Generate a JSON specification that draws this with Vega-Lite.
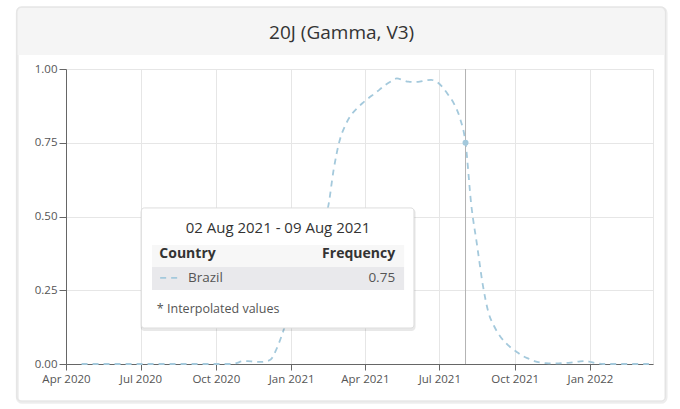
{
  "$schema": "https://vega.github.io/schema/vega-lite/v6.json",
  "background": "white",
  "padding": {"left": 15, "top": 6, "right": 0, "bottom": 0},
  "width": 587,
  "height": 295,
  "datasets": {
    "gamma": [
      {"date": "2020-04-20", "freq": 0}, {"date": "2020-04-27", "freq": 0},
      {"date": "2020-05-04", "freq": 0}, {"date": "2020-05-11", "freq": 0},
      {"date": "2020-05-18", "freq": 0}, {"date": "2020-05-25", "freq": 0},
      {"date": "2020-06-01", "freq": 0}, {"date": "2020-06-08", "freq": 0},
      {"date": "2020-06-15", "freq": 0}, {"date": "2020-06-22", "freq": 0},
      {"date": "2020-06-29", "freq": 0}, {"date": "2020-07-06", "freq": 0},
      {"date": "2020-07-13", "freq": 0}, {"date": "2020-07-20", "freq": 0},
      {"date": "2020-07-27", "freq": 0}, {"date": "2020-08-03", "freq": 0},
      {"date": "2020-08-10", "freq": 0}, {"date": "2020-08-17", "freq": 0},
      {"date": "2020-08-24", "freq": 0}, {"date": "2020-08-31", "freq": 0},
      {"date": "2020-09-07", "freq": 0}, {"date": "2020-09-14", "freq": 0},
      {"date": "2020-09-21", "freq": 0}, {"date": "2020-09-28", "freq": 0},
      {"date": "2020-10-05", "freq": 0}, {"date": "2020-10-12", "freq": 0},
      {"date": "2020-10-19", "freq": 0}, {"date": "2020-10-26", "freq": 0.003},
      {"date": "2020-11-02", "freq": 0.009}, {"date": "2020-11-09", "freq": 0.01},
      {"date": "2020-11-16", "freq": 0.008}, {"date": "2020-11-23", "freq": 0.007},
      {"date": "2020-11-30", "freq": 0.008}, {"date": "2020-12-07", "freq": 0.015},
      {"date": "2020-12-14", "freq": 0.05}, {"date": "2020-12-21", "freq": 0.1},
      {"date": "2020-12-28", "freq": 0.16}, {"date": "2021-01-04", "freq": 0.21},
      {"date": "2021-01-11", "freq": 0.26}, {"date": "2021-01-18", "freq": 0.31},
      {"date": "2021-01-25", "freq": 0.36}, {"date": "2021-02-01", "freq": 0.42},
      {"date": "2021-02-08", "freq": 0.48}, {"date": "2021-02-15", "freq": 0.53},
      {"date": "2021-02-22", "freq": 0.66}, {"date": "2021-03-01", "freq": 0.755},
      {"date": "2021-03-08", "freq": 0.808}, {"date": "2021-03-15", "freq": 0.843},
      {"date": "2021-03-22", "freq": 0.865}, {"date": "2021-03-29", "freq": 0.884},
      {"date": "2021-04-05", "freq": 0.9}, {"date": "2021-04-12", "freq": 0.915},
      {"date": "2021-04-19", "freq": 0.93}, {"date": "2021-04-26", "freq": 0.946},
      {"date": "2021-05-03", "freq": 0.958}, {"date": "2021-05-10", "freq": 0.968},
      {"date": "2021-05-17", "freq": 0.963}, {"date": "2021-05-24", "freq": 0.957},
      {"date": "2021-05-31", "freq": 0.956}, {"date": "2021-06-07", "freq": 0.957},
      {"date": "2021-06-14", "freq": 0.961}, {"date": "2021-06-21", "freq": 0.963},
      {"date": "2021-06-28", "freq": 0.956}, {"date": "2021-07-05", "freq": 0.938},
      {"date": "2021-07-12", "freq": 0.912}, {"date": "2021-07-19", "freq": 0.882},
      {"date": "2021-07-26", "freq": 0.835}, {"date": "2021-08-02", "freq": 0.75},
      {"date": "2021-08-09", "freq": 0.54}, {"date": "2021-08-16", "freq": 0.405},
      {"date": "2021-08-23", "freq": 0.27}, {"date": "2021-08-30", "freq": 0.175},
      {"date": "2021-09-06", "freq": 0.128}, {"date": "2021-09-13", "freq": 0.095},
      {"date": "2021-09-20", "freq": 0.072}, {"date": "2021-09-27", "freq": 0.054},
      {"date": "2021-10-04", "freq": 0.04}, {"date": "2021-10-11", "freq": 0.027},
      {"date": "2021-10-18", "freq": 0.018}, {"date": "2021-10-25", "freq": 0.01},
      {"date": "2021-11-01", "freq": 0.005}, {"date": "2021-11-08", "freq": 0.003},
      {"date": "2021-11-15", "freq": 0.002}, {"date": "2021-11-22", "freq": 0.002},
      {"date": "2021-11-29", "freq": 0.003}, {"date": "2021-12-06", "freq": 0.004},
      {"date": "2021-12-13", "freq": 0.006}, {"date": "2021-12-20", "freq": 0.009},
      {"date": "2021-12-27", "freq": 0.01}, {"date": "2022-01-03", "freq": 0.006},
      {"date": "2022-01-10", "freq": 0.002}, {"date": "2022-01-17", "freq": 0},
      {"date": "2022-01-24", "freq": 0}, {"date": "2022-01-31", "freq": 0},
      {"date": "2022-02-07", "freq": 0}, {"date": "2022-02-14", "freq": 0},
      {"date": "2022-02-21", "freq": 0}, {"date": "2022-02-28", "freq": 0},
      {"date": "2022-03-07", "freq": 0}, {"date": "2022-03-14", "freq": 0}
    ]
  },
  "layer": [
    {
      "data": {"name": "gamma"},
      "mark": {
        "type": "line",
        "interpolate": "monotone",
        "strokeDash": [6, 5],
        "strokeWidth": 1.8,
        "color": "#a4c9dc"
      },
      "encoding": {
        "x": {
          "field": "date",
          "type": "temporal",
          "title": null,
          "scale": {
            "type": "utc",
            "nice": false,
            "domain": [
              {"year": 2020, "month": 4, "date": 1, "utc": true},
              {"year": 2022, "month": 3, "date": 19, "utc": true}
            ]
          },
          "axis": {
            "format": "%b %Y",
            "tickCount": {"interval": "month", "step": 3},
            "labelFlush": false,
            "labelOverlap": false,
            "tickSize": 6,
            "labelPadding": 3
          }
        },
        "y": {
          "field": "freq",
          "type": "quantitative",
          "title": null,
          "scale": {"domain": [0, 1]},
          "axis": {
            "values": [0, 0.25, 0.5, 0.75, 1],
            "format": ".2f",
            "tickSize": 7,
            "labelPadding": 2
          }
        }
      }
    },
    {
      "data": {"values": [{}]},
      "mark": {"type": "rect", "fill": null, "stroke": "#000", "strokeOpacity": 0.07, "strokeWidth": 3, "cornerRadius": 5},
      "encoding": {
        "x": {"datum": {"year": 2020, "month": 2, "date": 1, "hours": 12, "utc": true}, "type": "temporal"},
        "x2": {"datum": {"year": 2022, "month": 4, "date": 4, "utc": true}},
        "y": {"datum": 1.207, "type": "quantitative"},
        "y2": {"datum": -0.13}
      }
    },
    {
      "data": {"values": [{}]},
      "mark": {"type": "rect", "fill": null, "stroke": "#e2e2e2", "strokeWidth": 1, "cornerRadius": 4},
      "encoding": {
        "x": {"datum": {"year": 2020, "month": 2, "date": 1, "utc": true}, "type": "temporal"},
        "x2": {"datum": {"year": 2022, "month": 4, "date": 3, "utc": true}},
        "y": {"datum": 1.2102, "type": "quantitative"},
        "y2": {"datum": -0.1254}
      }
    },
    {
      "data": {"values": [{}]},
      "mark": {"type": "rect", "fill": "#f5f5f5", "cornerRadiusTopLeft": 4, "cornerRadiusTopRight": 4},
      "encoding": {
        "x": {"datum": {"year": 2020, "month": 2, "date": 2, "utc": true}, "type": "temporal"},
        "x2": {"datum": {"year": 2022, "month": 4, "date": 2, "utc": true}},
        "y": {"datum": 1.2068, "type": "quantitative"},
        "y2": {"datum": 1.0475}
      }
    },
    {
      "data": {"values": [{"t": "20J (Gamma, V3)"}]},
      "mark": {"type": "text", "fontSize": 19, "color": "#333", "align": "center", "baseline": "middle"},
      "encoding": {
        "x": {"datum": {"year": 2021, "month": 3, "date": 3, "hours": 17, "utc": true}, "type": "temporal"},
        "y": {"datum": 1.122, "type": "quantitative"},
        "text": {"field": "t"}
      }
    },
    {
      "data": {"name": "gamma"},
      "transform": [{"filter": {"field": "date", "equal": {"year": 2021, "month": 8, "date": 2, "utc": true}}}],
      "mark": {"type": "rule", "color": "#b3b3b3", "strokeWidth": 1},
      "encoding": {"x": {"field": "date", "type": "temporal"}}
    },
    {
      "data": {"name": "gamma"},
      "transform": [{"filter": {"field": "date", "equal": {"year": 2021, "month": 8, "date": 2, "utc": true}}}],
      "mark": {"type": "point", "filled": true, "size": 36, "opacity": 1, "color": "#a4c9dc"},
      "encoding": {
        "x": {"field": "date", "type": "temporal"},
        "y": {"field": "freq", "type": "quantitative"}
      }
    },
    {
      "data": {"values": [{}]},
      "mark": {"type": "rect", "color": "#000", "opacity": 0.09, "cornerRadius": 4},
      "encoding": {
        "x": {"datum": {"year": 2020, "month": 7, "date": 1, "utc": true}, "type": "temporal"},
        "x2": {"datum": {"year": 2021, "month": 6, "date": 2, "utc": true}},
        "y": {"datum": 0.527, "type": "quantitative"},
        "y2": {"datum": 0.112}
      }
    },
    {
      "data": {"values": [{}]},
      "mark": {"type": "rect", "fill": "white", "stroke": "#dddddd", "strokeWidth": 1, "cornerRadius": 3},
      "encoding": {
        "x": {"datum": {"year": 2020, "month": 7, "date": 2, "utc": true}, "type": "temporal"},
        "x2": {"datum": {"year": 2021, "month": 5, "date": 31, "utc": true}},
        "y": {"datum": 0.529, "type": "quantitative"},
        "y2": {"datum": 0.122}
      }
    },
    {
      "data": {"values": [{}]},
      "mark": {"type": "rect", "fill": "#f7f7f7"},
      "encoding": {
        "x": {"datum": {"year": 2020, "month": 7, "date": 15, "utc": true}, "type": "temporal"},
        "x2": {"datum": {"year": 2021, "month": 5, "date": 19, "utc": true}},
        "y": {"datum": 0.403, "type": "quantitative"},
        "y2": {"datum": 0.329}
      }
    },
    {
      "data": {"values": [{}]},
      "mark": {"type": "rect", "fill": "#e9e9ec"},
      "encoding": {
        "x": {"datum": {"year": 2020, "month": 7, "date": 15, "utc": true}, "type": "temporal"},
        "x2": {"datum": {"year": 2021, "month": 5, "date": 19, "utc": true}},
        "y": {"datum": 0.329, "type": "quantitative"},
        "y2": {"datum": 0.251}
      }
    },
    {
      "data": {"values": [{"t": "02 Aug 2021 - 09 Aug 2021"}]},
      "mark": {"type": "text", "fontSize": 15, "color": "#333", "align": "center", "baseline": "middle"},
      "encoding": {
        "x": {"datum": {"year": 2020, "month": 12, "date": 16, "utc": true}, "type": "temporal"},
        "y": {"datum": 0.461, "type": "quantitative"},
        "text": {"field": "t"}
      }
    },
    {
      "data": {"values": [{"t": "Country"}]},
      "mark": {"type": "text", "fontSize": 14, "fontWeight": "bold", "color": "#333", "align": "left", "baseline": "middle"},
      "encoding": {
        "x": {"datum": {"year": 2020, "month": 7, "date": 24, "utc": true}, "type": "temporal"},
        "y": {"datum": 0.373, "type": "quantitative"},
        "text": {"field": "t"}
      }
    },
    {
      "data": {"values": [{"t": "Frequency"}]},
      "mark": {"type": "text", "fontSize": 14, "fontWeight": "bold", "color": "#333", "align": "right", "baseline": "middle"},
      "encoding": {
        "x": {"datum": {"year": 2021, "month": 5, "date": 8, "utc": true}, "type": "temporal"},
        "y": {"datum": 0.373, "type": "quantitative"},
        "text": {"field": "t"}
      }
    },
    {
      "data": {"values": [{}]},
      "mark": {"type": "rule", "color": "#a4c9dc", "strokeWidth": 1.8, "strokeDash": [6, 5]},
      "encoding": {
        "x": {"datum": {"year": 2020, "month": 7, "date": 25, "utc": true}, "type": "temporal"},
        "x2": {"datum": {"year": 2020, "month": 8, "date": 20, "utc": true}},
        "y": {"datum": 0.292, "type": "quantitative"}
      }
    },
    {
      "data": {"values": [{"t": "Brazil"}]},
      "mark": {"type": "text", "fontSize": 13.5, "color": "#555", "align": "left", "baseline": "middle"},
      "encoding": {
        "x": {"datum": {"year": 2020, "month": 8, "date": 28, "utc": true}, "type": "temporal"},
        "y": {"datum": 0.292, "type": "quantitative"},
        "text": {"field": "t"}
      }
    },
    {
      "data": {"values": [{"t": "0.75"}]},
      "mark": {"type": "text", "fontSize": 13.5, "color": "#555", "align": "right", "baseline": "middle"},
      "encoding": {
        "x": {"datum": {"year": 2021, "month": 5, "date": 8, "utc": true}, "type": "temporal"},
        "y": {"datum": 0.292, "type": "quantitative"},
        "text": {"field": "t"}
      }
    },
    {
      "data": {"values": [{"t": "* Interpolated values"}]},
      "mark": {"type": "text", "fontSize": 12.5, "color": "#555", "align": "left", "baseline": "middle"},
      "encoding": {
        "x": {"datum": {"year": 2020, "month": 7, "date": 21, "utc": true}, "type": "temporal"},
        "y": {"datum": 0.186, "type": "quantitative"},
        "text": {"field": "t"}
      }
    }
  ],
  "config": {
    "font": "Open Sans",
    "view": {"stroke": "#e6e6e6"},
    "axis": {
      "labelFont": "Open Sans",
      "labelFontSize": 11.5,
      "labelColor": "#555",
      "gridColor": "#e6e6e6",
      "domainColor": "#666",
      "tickColor": "#666"
    }
  }
}
